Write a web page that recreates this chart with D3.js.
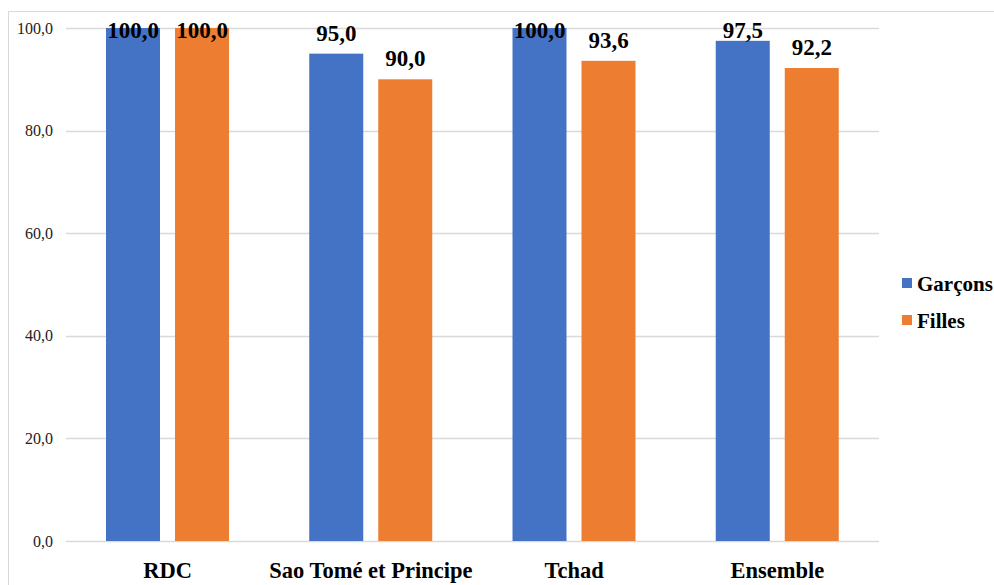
<!DOCTYPE html>
<html><head><meta charset="utf-8">
<script src="https://cdn.jsdelivr.net/npm/d3@7"></script>
<style>body{margin:0;background:#fff}svg{display:block}
svg text{font-family:"Liberation Serif","Times New Roman",Tinos,"Nimbus Roman","DejaVu Serif",serif}</style>
</head><body>
<script>
const categories = ["RDC", "Sao Tomé et Principe", "Tchad", "Ensemble"];
const seriesNames = ["Garçons", "Filles"];
const garcons = [100.0, 95.0, 100.0, 97.5];
const filles = [100.0, 90.0, 93.6, 92.2];
const yTicks = [0, 20, 40, 60, 80, 100];
const colors = ["#4472C4", "#ED7D31"];

(function () {
const W = 994, H = 585;
const svg = d3.select("body").append("svg").attr("width", W).attr("height", H);

svg.append("rect").attr("x", 8.5).attr("y", 11.5).attr("width", W + 20).attr("height", H + 20)
  .attr("fill", "none").attr("stroke", "#d9d9d9").attr("stroke-width", 1);

const mLeft = 66, mRight = 879, mTop = 28, mBottom = 541;
const x0 = d3.scaleBand().domain(categories).range([mLeft, mRight]).paddingInner(0).paddingOuter(0);
const x1 = d3.scaleBand().domain(seriesNames).range([40, 163]).paddingInner(15/69);
const y = d3.scaleLinear().domain([0, 100]).range([mBottom, mTop]);

const fmt = v => d3.format(".1f")(v).replace(".", ",");

svg.append("g").selectAll("line").data(yTicks).join("line")
  .attr("x1", mLeft).attr("x2", mRight)
  .attr("y1", d => Math.round(y(d)) + 0.5).attr("y2", d => Math.round(y(d)) + 0.5)
  .attr("stroke", "#d9d9d9").attr("stroke-width", 1.5);

const yAxis = d3.axisLeft(y).tickValues(yTicks).tickFormat(fmt).tickSize(0).tickPadding(0);
const ga = svg.append("g").attr("transform", `translate(53,0)`).call(yAxis);
ga.select(".domain").remove();
ga.attr("font-family", null).attr("font-size", null);
ga.selectAll("text").attr("font-size", 16).attr("fill", "#222").attr("dy", "0.32em");

const data = categories.map((c, i) => ({c, vals: [garcons[i], filles[i]]}));
const groups = svg.append("g").selectAll("g").data(data).join("g")
  .attr("transform", d => `translate(${x0(d.c)},0)`);
groups.selectAll("rect").data(d => d.vals.map((v, k) => ({k, v}))).join("rect")
  .attr("x", d => x1(seriesNames[d.k])).attr("width", x1.bandwidth())
  .attr("y", d => y(d.v)).attr("height", d => mBottom - y(d.v))
  .attr("fill", d => colors[d.k]);
groups.selectAll("text.val").data(d => d.vals.map((v, k) => ({k, v}))).join("text")
  .attr("class", "val")
  .attr("x", d => x1(seriesNames[d.k]) + x1.bandwidth() / 2)
  .attr("y", d => Math.max(y(d.v) - 13, 38))
  .attr("text-anchor", "middle").attr("font-weight", "bold")
  .attr("font-size", 23).attr("fill", "#000").text(d => fmt(d.v));

svg.append("g").selectAll("text").data(categories).join("text")
  .attr("x", d => x0(d) + x0.bandwidth() / 2).attr("y", 578)
  .attr("text-anchor", "middle").attr("font-weight", "bold")
  .attr("font-size", 22.5).attr("fill", "#000").text(d => d);

const lg = svg.append("g").selectAll("g").data(seriesNames).join("g")
  .attr("transform", (d, i) => `translate(902,${278 + i * 37})`);
lg.append("rect").attr("width", 10).attr("height", 10).attr("fill", (d, i) => colors[i]);
lg.append("text").attr("x", 15).attr("y", 13).attr("font-weight", "bold")
  .attr("font-size", 21).attr("fill", "#000").text(d => d);
})();
</script>
</body></html>
